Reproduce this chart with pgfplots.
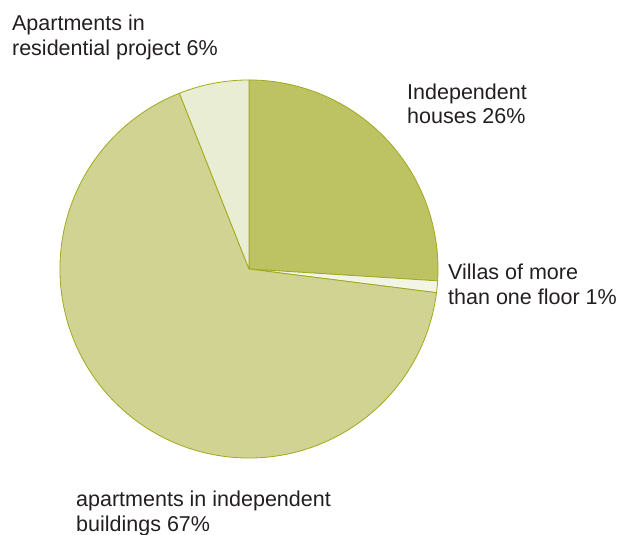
\documentclass[border=0pt]{standalone}
\usepackage{pgfplots}
\pgfplotsset{compat=1.18}
\usepackage{fontspec}
\setmainfont{Liberation Sans}

\definecolor{edge}{HTML}{9FAA1E}
\definecolor{houses}{HTML}{BDC263}
\definecolor{villas}{HTML}{F3F5E4}
\definecolor{buildings}{HTML}{D0D392}
\definecolor{project}{HTML}{E9EDD3}
\definecolor{txt}{HTML}{231F20}

\tikzset{lbl/.style={anchor=base west, font=\fontsize{21.5}{24}\selectfont, text=txt, inner sep=0pt}}

% shares in percent, clockwise from 12 o'clock
\def\pHouses{26}
\def\pVillas{1}
\def\pBuildings{67}
\def\pProject{6}

\pgfmathsetmacro\aA{90}
\pgfmathsetmacro\aB{\aA-3.6*\pHouses}
\pgfmathsetmacro\aC{\aB-3.6*\pVillas}
\pgfmathsetmacro\aD{\aC-3.6*\pBuildings}
\pgfmathsetmacro\aE{\aD-3.6*\pProject}

\begin{document}
\begin{tikzpicture}
\begin{axis}[
    x=189pt, y=189pt,
    scale only axis,
    hide axis,
    xmin=-1.317, xmax=1.968,
    ymin=-1.402, ymax=1.423,
    clip=false,
    every axis plot/.append style={draw=edge, line width=0.8pt, line join=round},
]
\addplot[fill=houses, data cs=polar, domain=\aB:\aA, samples=60]
    ({x}, {1}) -- (axis cs:0,0) -- cycle;
\addplot[fill=villas, data cs=polar, domain=\aC:\aB, samples=5]
    ({x}, {1}) -- (axis cs:0,0) -- cycle;
\addplot[fill=buildings, data cs=polar, domain=\aD:\aC, samples=150]
    ({x}, {1}) -- (axis cs:0,0) -- cycle;
\addplot[fill=project, data cs=polar, domain=\aE:\aD, samples=15]
    ({x}, {1}) -- (axis cs:0,0) -- cycle;

\node[lbl] at (axis cs:-1.254,1.259) {Apartments in};
\node[lbl] at (axis cs:-1.254,1.132) {residential project 6\%};
\node[lbl] at (axis cs:0.836,0.899) {Independent};
\node[lbl] at (axis cs:0.836,0.772) {houses 26\%};
\node[lbl] at (axis cs:1.053,-0.058) {Villas of more};
\node[lbl] at (axis cs:1.053,-0.190) {than one floor 1\%};
\node[lbl] at (axis cs:-0.915,-1.254) {apartments in independent};
\node[lbl] at (axis cs:-0.915,-1.386) {buildings 67\%};
\end{axis}
\pgfresetboundingbox
\path[use as bounding box] (current axis.south west) rectangle (current axis.north east);
\end{tikzpicture}
\end{document}
